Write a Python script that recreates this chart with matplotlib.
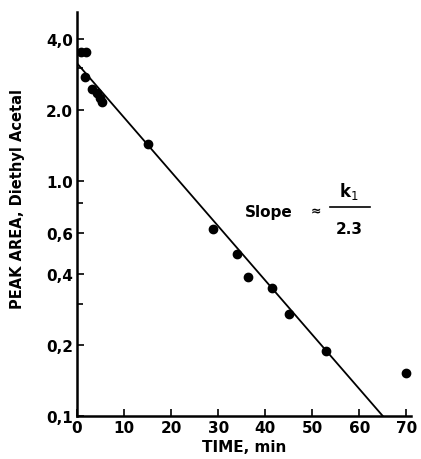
import matplotlib.pyplot as plt
from matplotlib.ticker import FixedLocator, NullFormatter

# measured points (time in min, peak area)
time_min = [0.8, 2.0, 1.7, 3.2, 4.2, 4.9, 5.3, 15.1, 28.9, 34.0, 36.3, 41.4, 45.0, 53.0, 70.0]
peak_area = [3.5, 3.5, 2.75, 2.45, 2.36, 2.24, 2.16, 1.43, 0.625, 0.49, 0.39, 0.348, 0.27, 0.188, 0.152]

# fitted first-order line
fit_t = [0, 65]
fit_v = [3.15, 0.1]

y_ticks = [0.1, 0.2, 0.4, 0.6, 1.0, 2.0, 4.0]
y_ticklabels = ["0,1", "0,2", "0,4", "0,6", "1.0", "2.0", "4,0"]
y_minor = [0.3, 0.8, 3.0]
x_ticks = [0, 10, 20, 30, 40, 50, 60, 70]

plt.rcParams['font.family'] = ['DejaVu Sans']
fig = plt.figure(figsize=(4.21, 4.6), dpi=100)
ax = fig.add_axes([77 / 421, 43 / 460, 334 / 421, 404 / 460])

ax.plot(fit_t, fit_v, color='black', lw=1.3)
ax.plot(time_min, peak_area, 'o', color='black', ms=6)

ax.set_yscale('log')
ax.set_xlim(0, 71)
ax.set_ylim(0.1, 5.2)
ax.yaxis.set_major_locator(FixedLocator(y_ticks))
ax.yaxis.set_minor_locator(FixedLocator(y_minor))
ax.yaxis.set_minor_formatter(NullFormatter())
ax.set_yticklabels(y_ticklabels, fontsize=11, fontweight='bold')
ax.set_xticks(x_ticks)
ax.set_xticklabels([str(v) for v in x_ticks], fontsize=11, fontweight='bold')

ax.tick_params(direction='in', length=5, width=1.2, pad=3)
ax.tick_params(which='minor', direction='in', length=4, width=1.2)
for s in ['top', 'right']:
    ax.spines[s].set_visible(False)
for s in ['left', 'bottom']:
    ax.spines[s].set_linewidth(1.8)

ax.set_xlabel("TIME, min", fontsize=11, fontweight='bold', labelpad=3)
ax.set_ylabel("PEAK AREA, Diethyl Acetal", fontsize=10.5, fontweight='bold')
ax.yaxis.set_label_coords(-0.155, 0.54)

# slope annotation
ax.text(0.503, 0.507, "Slope", transform=ax.transAxes, fontsize=11,
        fontweight='bold', ha='left', va='center')
ax.text(0.715, 0.507, "\u2248", transform=ax.transAxes, fontsize=9,
        fontweight='bold', ha='center', va='center')
ax.text(0.815, 0.557, "k$_1$", transform=ax.transAxes, fontsize=12,
        fontweight='bold', ha='center', va='center')
ax.plot([0.757, 0.877], [0.517, 0.517], transform=ax.transAxes,
        color='black', lw=1.2)
ax.text(0.815, 0.463, "2.3", transform=ax.transAxes, fontsize=11,
        fontweight='bold', ha='center', va='center')

fig.savefig("out.png", dpi=100)
